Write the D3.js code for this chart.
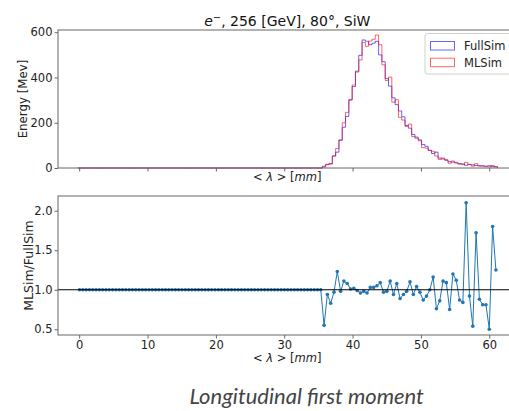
<!DOCTYPE html>
<html>
<head>
<meta charset="utf-8">
<script src="https://cdn.jsdelivr.net/npm/d3@7"></script>
<style>
  body { margin: 0; background: #fff; }
  svg text { font-family: "DejaVu Sans", sans-serif; }
</style>
</head>
<body>
<div id="chart"></div>
<script>
// bin grid of the histogram (127 bins)
const binLo = -0.19, binWidth = 0.4835, nBins = 127;

// FullSim energy per bin [MeV]
const fullSim = [
  0,0,0,0,0,0,0,0,0,0, 0,0,0,0,0,0,0,0,0,0,
  0,0,0,0,0,0,0,0,0,0, 0,0,0,0,0,0,0,0,0,0,
  0,0,0,0,0,0,0,0,0,0, 0,0,0,0,0,0,0,0,0,0,
  0,0,0,0,0,0,0,0,0,0, 0,0,0,0,
  8,16,20,54,70,124,180,228,300,360,
  428,498,566,560,545,552,560,500,470,395,
  362,310,280,252,226,188,176,148,132,124,
  104,96,78,64,70,44,40,34,28,26,
  22,20,18,12,16,14,11,10,10,8,
  10,6,5
];

// MLSim energy per bin [MeV]
const mlSim = [
  0,0,0,0,0,0,0,0,0,0, 0,0,0,0,0,0,0,0,0,0,
  0,0,0,0,0,0,0,0,0,0, 0,0,0,0,0,0,0,0,0,0,
  0,0,0,0,0,0,0,0,0,0, 0,0,0,0,0,0,0,0,0,0,
  0,0,0,0,0,0,0,0,0,0, 0,0,0,0,
  4,15,17,52,86,122,200,246,303,367,
  424,478,555,538,561,569,588,545,456,387,
  402,291,302,224,212,184,194,139,137,120,
  90,88,78,74,53,38,44,37,21,31,
  25,17,15,25,15,8,19,9,8,6,
  5,11,6
];

// MLSim / FullSim per bin (1 where both are empty)
const ratio = [
  1,1,1,1,1,1,1,1,1,1, 1,1,1,1,1,1,1,1,1,1,
  1,1,1,1,1,1,1,1,1,1, 1,1,1,1,1,1,1,1,1,1,
  1,1,1,1,1,1,1,1,1,1, 1,1,1,1,1,1,1,1,1,1,
  1,1,1,1,1,1,1,1,1,1, 1,1,1,1,
  0.55,0.94,0.83,0.97,1.23,0.98,1.11,1.08,1.01,1.02,
  0.99,0.96,0.98,0.96,1.03,1.03,1.05,1.09,0.97,0.98,
  1.11,0.94,1.08,0.89,0.94,0.98,1.10,0.94,1.04,0.97,
  0.87,0.92,1.00,1.16,0.76,0.86,1.11,1.09,0.75,1.20,
  1.12,0.87,0.84,2.10,0.92,0.54,1.72,0.88,0.81,0.81,
  0.50,1.80,1.25
];

const xTicks = [0, 10, 20, 30, 40, 50, 60];
const energyTicks = [0, 200, 400, 600];
const ratioTicks = [0.5, 1.0, 1.5, 2.0];
const seriesNames = ["FullSim", "MLSim"];
const seriesColors = ["#0000ff", "#ff0000"];

const W = 509, H = 411;
const svg = d3.select("#chart").append("svg")
  .attr("width", W).attr("height", H)
  .style("background", "#fff");

const left = 58, right = 516.6;
const top1 = 30, bot1 = 168;
const top2 = 196, bot2 = 335;
const axisColor = "#666";

const x = d3.scaleLinear().domain([-3.1, 64.0]).range([left, right]);
const y1 = d3.scaleLinear().domain([0, 610]).range([bot1, top1]);
const y2 = d3.scaleLinear().domain([0.428, 2.186]).range([bot2, top2]);

const edges = d3.range(nBins + 1).map(k => binLo + k * binWidth);
const centers = d3.range(nBins).map(k => binLo + (k + 0.5) * binWidth);

function styleAxis(g) {
  g.selectAll(".domain").remove();
  g.selectAll("line").attr("stroke", axisColor);
  g.selectAll("text").attr("fill", "#222").style("font-size", "11.5px");
}

function frame(t, b) {
  svg.append("rect")
    .attr("x", left).attr("y", t)
    .attr("width", right - left).attr("height", b - t)
    .attr("fill", "none").attr("stroke", axisColor).attr("stroke-width", 1);
}

// ==== Panel 1: histograms ====
const stepLine = d3.line().x(d => x(d[0])).y(d => y1(d[1]));
function stepPoints(counts) {
  const pts = [[edges[0], 0]];
  counts.forEach((c, i) => { pts.push([edges[i], c]); pts.push([edges[i + 1], c]); });
  pts.push([edges[nBins], 0]);
  return pts;
}

[fullSim, mlSim].forEach((s, k) => {
  svg.append("path")
    .attr("d", stepLine(stepPoints(s)))
    .attr("fill", "none")
    .attr("stroke", seriesColors[k])
    .attr("stroke-opacity", 0.6)
    .attr("stroke-width", 1);
});

frame(top1, bot1);

svg.append("g")
  .attr("transform", `translate(0,${bot1})`)
  .call(d3.axisBottom(x).tickValues(xTicks).tickSize(3.5).tickFormat(""))
  .call(styleAxis);

svg.append("g")
  .attr("transform", `translate(${left},0)`)
  .call(d3.axisLeft(y1).tickValues(energyTicks).tickSize(3.5).tickPadding(2))
  .call(styleAxis);

// title
const title = svg.append("text")
  .attr("x", (left + right) / 2).attr("y", 26)
  .attr("text-anchor", "middle")
  .style("font-size", "14px").attr("fill", "#111");
title.append("tspan").text("e").style("font-style", "italic");
title.append("tspan").text("\u2212").attr("dy", -5.5).style("font-size", "10px");
title.append("tspan").text(", 256 [GeV], 80\u00b0, SiW").attr("dy", 5.5);

// axis labels
svg.append("text")
  .attr("transform", `translate(27,${(top1 + bot1) / 2}) rotate(-90)`)
  .attr("text-anchor", "middle")
  .style("font-size", "11.8px").attr("fill", "#222")
  .text("Energy [Mev]");

function lambdaLabel(yPos) {
  const t = svg.append("text")
    .attr("x", (left + right) / 2).attr("y", yPos)
    .attr("text-anchor", "middle")
    .style("font-size", "11.5px").attr("fill", "#222");
  t.append("tspan").text("< ");
  t.append("tspan").text("\u03bb").style("font-style", "italic");
  t.append("tspan").text(" > [");
  t.append("tspan").text("mm").style("font-style", "italic");
  t.append("tspan").text("]");
}
lambdaLabel(181);

// legend
const lg = svg.append("g");
lg.append("rect")
  .attr("x", 425).attr("y", 33.5).attr("width", 88).attr("height", 40.5)
  .attr("rx", 2.5)
  .attr("fill", "#fff").attr("fill-opacity", 0.8)
  .attr("stroke", "#d0d0d0").attr("stroke-width", 1);
seriesNames.forEach((name, k) => {
  const yy = 41.5 + k * 16.7;
  lg.append("rect")
    .attr("x", 430.5).attr("y", yy).attr("width", 24).attr("height", 8.5)
    .attr("fill", "none")
    .attr("stroke", seriesColors[k]).attr("stroke-opacity", 0.6);
  lg.append("text")
    .attr("x", 464).attr("y", yy + 8.5)
    .style("font-size", "11.5px").attr("fill", "#222")
    .text(name);
});

// ==== Panel 2: ratio ====
const ratioPts = centers.map((c, i) => [c, ratio[i]]);

svg.append("path")
  .attr("d", d3.line().x(d => x(d[0])).y(d => y2(d[1]))(ratioPts))
  .attr("fill", "none")
  .attr("stroke", "#1f77b4")
  .attr("stroke-width", 1);

svg.selectAll(".rpt")
  .data(ratioPts)
  .enter().append("circle")
    .attr("class", "rpt")
    .attr("cx", d => x(d[0]))
    .attr("cy", d => y2(d[1]))
    .attr("r", 1.8)
    .attr("fill", "#1f77b4");

svg.append("line")
  .attr("x1", left).attr("x2", right)
  .attr("y1", y2(1)).attr("y2", y2(1))
  .attr("stroke", "#000").attr("stroke-width", 1.1);

frame(top2, bot2);

svg.append("g")
  .attr("transform", `translate(0,${bot2})`)
  .call(d3.axisBottom(x).tickValues(xTicks).tickSize(3.5).tickPadding(2))
  .call(styleAxis);

svg.append("g")
  .attr("transform", `translate(${left},0)`)
  .call(d3.axisLeft(y2).tickValues(ratioTicks).tickSize(3.5).tickPadding(2)
    .tickFormat(d3.format(".1f")))
  .call(styleAxis);

svg.append("text")
  .attr("transform", `translate(33,${(top2 + bot2) / 2}) rotate(-90)`)
  .attr("text-anchor", "middle")
  .style("font-size", "12.5px").attr("fill", "#222")
  .text("MLSim/FullSim");

lambdaLabel(362);

// caption
svg.append("text")
  .attr("x", 306.7).attr("y", 404)
  .attr("text-anchor", "middle")
  .style("font-family", "Lato, sans-serif")
  .style("font-style", "italic")
  .style("font-size", "22px")
  .attr("fill", "#444")
  .text("Longitudinal first moment");
</script>
</body>
</html>
